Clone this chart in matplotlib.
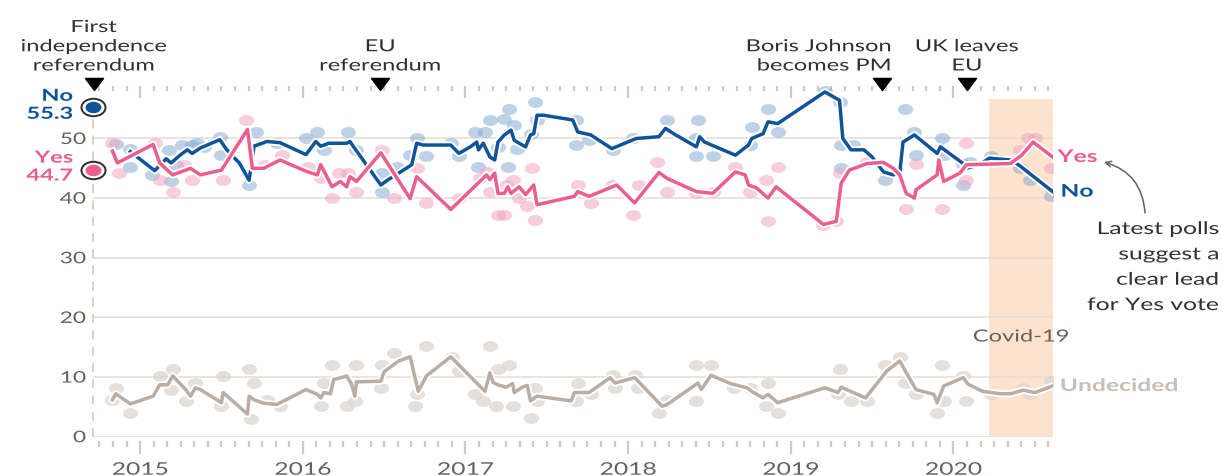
import matplotlib
matplotlib.use('Agg')
import matplotlib.pyplot as plt
import matplotlib.patheffects as pe
from matplotlib.patheffects import AbstractPathEffect
from matplotlib.transforms import Affine2D
from matplotlib.ticker import FixedLocator, NullFormatter
from matplotlib.path import Path
from matplotlib.markers import MarkerStyle

plt.rcParams['font.family'] = ['Lato', 'DejaVu Sans']

# ---------------- data (decimal years) ----------------
no_dates = [2014.94, 2015.09, 2015.16, 2015.19, 2015.25, 2015.29, 2015.32, 2015.37, 2015.49, 2015.53,
            2015.57, 2015.61, 2015.67, 2015.70, 2015.78, 2015.86, 2016.02, 2016.08, 2016.11, 2016.16,
            2016.27, 2016.29, 2016.31, 2016.48, 2016.52, 2016.59, 2016.67, 2016.70, 2016.74, 2016.91,
            2016.96, 2017.03, 2017.07, 2017.08, 2017.11, 2017.15, 2017.18, 2017.20, 2017.24, 2017.28,
            2017.30, 2017.33, 2017.37, 2017.40, 2017.42, 2017.44, 2017.48, 2017.66, 2017.69, 2017.77,
            2017.90, 2018.05, 2018.19, 2018.23, 2018.28, 2018.42, 2018.44, 2018.47, 2018.66, 2018.74,
            2018.76, 2018.83, 2018.86, 2018.92, 2019.21, 2019.30, 2019.32, 2019.37, 2019.45, 2019.50,
            2019.57, 2019.63, 2019.67, 2019.69, 2019.76, 2019.90, 2019.92, 2020.06, 2020.08, 2020.16,
            2020.22, 2020.35, 2020.40, 2020.61]
no_line = [47.8, 44.6, 46.6, 45.9, 47.3, 48.1, 47.5, 48.4, 49.8, 48.2,
           47.0, 45.9, 43.0, 48.7, 49.5, 49.3, 47.3, 49.5, 48.7, 49.2,
           49.2, 49.5, 48.7, 42.2, 43.0, 44.2, 45.6, 49.2, 48.9, 48.9,
           47.5, 48.6, 49.4, 48.1, 49.2, 46.9, 46.4, 49.4, 50.6, 51.4,
           49.7, 49.2, 48.6, 50.6, 50.8, 53.9, 53.9, 53.1, 51.1, 50.6,
           48.3, 50.0, 50.3, 51.7, 50.8, 48.6, 50.3, 49.4, 47.2, 48.9,
           50.0, 50.8, 52.8, 52.5, 57.8, 56.4, 50.0, 48.1, 48.1, 46.9,
           44.4, 43.9, 44.2, 49.4, 50.6, 47.5, 48.6, 45.8, 45.0, 45.6,
           46.7, 46.4, 45.6, 41.1]

yes_dates = [2014.83, 2014.86, 2015.08, 2015.12, 2015.20, 2015.31, 2015.37, 2015.50, 2015.66, 2015.69,
             2015.76, 2015.86, 2016.02, 2016.09, 2016.11, 2016.18, 2016.23, 2016.27, 2016.29, 2016.33,
             2016.48, 2016.66, 2016.70, 2016.91, 2017.10, 2017.13, 2017.15, 2017.18, 2017.20, 2017.24,
             2017.26, 2017.28, 2017.33, 2017.37, 2017.42, 2017.44, 2017.67, 2017.69, 2017.76, 2017.93,
             2018.04, 2018.19, 2018.24, 2018.42, 2018.52, 2018.66, 2018.72, 2018.74, 2018.79, 2018.86,
             2018.91, 2019.20, 2019.28, 2019.31, 2019.36, 2019.47, 2019.57, 2019.63, 2019.67, 2019.71,
             2019.76, 2019.77, 2019.90, 2019.91, 2019.94, 2020.04, 2020.08, 2020.35, 2020.42, 2020.49,
             2020.61]
yes_line = [47.9, 45.9, 49.0, 45.9, 43.9, 45.0, 43.9, 44.7, 51.5, 45.0,
            45.0, 46.4, 44.5, 43.9, 45.6, 41.9, 42.8, 41.9, 43.6, 42.8,
            47.6, 39.9, 43.6, 38.1, 43.1, 43.9, 43.1, 44.2, 40.8, 40.8,
            41.9, 40.8, 41.9, 40.6, 42.2, 38.9, 40.3, 41.1, 40.3, 42.2,
            39.2, 44.3, 43.3, 41.1, 40.8, 44.4, 43.9, 42.2, 41.7, 40.0,
            41.9, 35.6, 36.1, 42.5, 44.7, 45.8, 46.0, 45.0, 43.9, 40.8,
            40.0, 41.4, 43.9, 46.4, 42.8, 44.2, 45.6, 45.8, 47.2, 49.4,
            46.9]

und_dates = [2014.83, 2014.85, 2014.94, 2015.08, 2015.12, 2015.17, 2015.20, 2015.28, 2015.31, 2015.34,
             2015.37, 2015.50, 2015.51, 2015.66, 2015.67, 2015.70, 2015.76, 2015.84, 2016.02, 2016.09,
             2016.11, 2016.13, 2016.17, 2016.19, 2016.25, 2016.27, 2016.30, 2016.32, 2016.33, 2016.48,
             2016.50, 2016.59, 2016.66, 2016.71, 2016.76, 2016.91, 2017.12, 2017.15, 2017.17, 2017.20,
             2017.25, 2017.29, 2017.30, 2017.35, 2017.38, 2017.40, 2017.44, 2017.65, 2017.67, 2017.76,
             2017.89, 2017.92, 2018.04, 2018.21, 2018.24, 2018.43, 2018.45, 2018.51, 2018.63, 2018.73,
             2018.76, 2018.83, 2018.86, 2018.92, 2019.21, 2019.29, 2019.31, 2019.46, 2019.59, 2019.67,
             2019.74, 2019.77, 2019.88, 2019.90, 2019.94, 2020.06, 2020.09, 2020.18, 2020.29, 2020.35,
             2020.43, 2020.50, 2020.61]
und_line = [6.2, 7.2, 5.5, 6.8, 8.7, 8.7, 10.2, 7.9, 6.8, 8.2,
            7.9, 5.7, 7.4, 3.8, 6.8, 6.2, 5.6, 5.4, 7.9, 7.1,
            6.5, 7.4, 7.2, 9.6, 10.0, 10.2, 8.8, 6.8, 9.2, 9.3,
            10.9, 12.7, 13.4, 7.6, 10.2, 13.4, 7.6, 10.7, 9.1, 8.7,
            8.3, 8.9, 7.4, 8.3, 8.6, 6.0, 6.8, 6.0, 7.4, 7.4,
            9.9, 9.0, 9.9, 5.1, 5.4, 9.0, 7.9, 10.3, 8.9, 8.2,
            7.6, 6.5, 7.1, 5.7, 8.2, 7.4, 8.3, 6.5, 11.0, 12.7,
            9.3, 7.9, 7.1, 5.7, 8.5, 9.9, 8.8, 7.6, 7.2, 7.2,
            7.8, 7.4, 8.5]

# individual polls
no_poll_dates = [2014.85, 2014.94, 2014.94, 2015.07, 2015.18, 2015.19, 2015.22, 2015.26, 2015.32, 2015.35,
                 2015.39, 2015.49, 2015.50, 2015.67, 2015.71, 2015.84, 2016.02, 2016.09, 2016.13, 2016.28,
                 2016.33, 2016.49, 2016.49, 2016.58, 2016.66, 2016.70, 2016.76, 2016.91, 2016.96, 2017.06,
                 2017.12, 2017.08, 2017.15, 2017.20, 2017.26, 2017.27, 2017.24, 2017.30, 2017.32, 2017.40,
                 2017.43, 2017.44, 2017.68, 2017.68, 2017.76, 2017.91, 2018.03, 2018.24, 2018.43, 2018.42,
                 2018.42, 2018.52, 2018.76, 2018.75, 2018.86, 2018.92, 2019.21, 2019.30, 2019.31, 2019.31,
                 2019.38, 2019.58, 2019.70, 2019.76, 2019.77, 2019.93, 2019.94, 2020.06, 2020.06, 2020.10,
                 2020.23, 2020.41, 2020.47, 2020.60]
no_poll_vals = [49.0, 48.3, 45.3, 43.9, 48.1, 42.8, 45.6, 48.9, 48.9, 49.2,
                48.6, 50.3, 47.2, 42.2, 51.1, 49.2, 50.0, 51.1, 48.1, 51.1,
                48.1, 41.1, 44.2, 45.3, 47.2, 50.0, 47.0, 49.2, 47.0, 51.1,
                51.1, 45.3, 53.1, 48.6, 45.3, 55.0, 53.3, 52.2, 48.3, 50.8,
                56.1, 53.1, 53.1, 48.9, 49.7, 48.1, 50.0, 53.1, 53.1, 50.0,
                47.0, 47.0, 52.0, 48.9, 55.0, 51.1, 58.0, 56.1, 48.9, 45.0,
                48.9, 43.1, 55.0, 51.1, 47.2, 50.0, 47.2, 45.8, 42.2, 46.1,
                47.0, 45.0, 43.1, 40.3]

yes_poll_dates = [2014.83, 2014.87, 2015.09, 2015.12, 2015.20, 2015.27, 2015.32, 2015.51, 2015.65, 2015.77,
                  2015.87, 2016.03, 2016.11, 2016.18, 2016.22, 2016.28, 2016.33, 2016.49, 2016.56, 2016.70,
                  2016.76, 2016.96, 2017.09, 2017.13, 2017.15, 2017.20, 2017.24, 2017.25, 2017.29, 2017.33,
                  2017.38, 2017.41, 2017.43, 2017.69, 2017.77, 2017.90, 2018.03, 2018.07, 2018.18, 2018.24,
                  2018.42, 2018.52, 2018.66, 2018.75, 2018.85, 2018.92, 2018.86, 2019.20, 2019.30, 2019.28,
                  2019.47, 2019.71, 2019.77, 2019.90, 2019.93, 2020.08, 2020.08, 2020.41, 2020.46, 2020.50,
                  2020.60]
yes_poll_vals = [49.2, 44.2, 49.2, 43.1, 41.1, 45.6, 43.1, 43.1, 53.1, 45.6,
                 47.2, 45.3, 43.3, 40.0, 44.2, 44.2, 41.1, 48.1, 40.0, 45.0,
                 39.2, 40.0, 43.3, 44.4, 41.1, 37.2, 37.2, 42.2, 43.1, 40.0,
                 38.6, 45.0, 36.4, 42.2, 39.2, 42.2, 37.2, 42.2, 46.1, 41.1,
                 40.8, 41.1, 45.3, 41.1, 43.1, 45.3, 36.1, 35.5, 44.2, 36.1,
                 46.1, 38.1, 45.8, 48.1, 38.1, 49.2, 43.1, 48.1, 50.0, 50.0,
                 45.0]

und_poll_dates = [2014.83, 2014.85, 2014.94, 2015.12, 2015.20, 2015.19, 2015.28, 2015.34, 2015.50, 2015.51,
                  2015.67, 2015.70, 2015.68, 2015.78, 2015.86, 2016.11, 2016.13, 2016.18, 2016.27, 2016.32,
                  2016.33, 2016.48, 2016.49, 2016.56, 2016.76, 2016.69, 2016.70, 2016.92, 2016.96, 2017.06,
                  2017.11, 2017.15, 2017.20, 2017.19, 2017.27, 2017.29, 2017.40, 2017.43, 2017.44, 2017.69,
                  2017.68, 2017.77, 2017.91, 2017.92, 2018.04, 2018.06, 2018.19, 2018.24, 2018.42, 2018.42,
                  2018.51, 2018.65, 2018.75, 2018.85, 2018.86, 2018.92, 2019.30, 2019.29, 2019.37, 2019.47,
                  2019.58, 2019.67, 2019.70, 2019.77, 2019.90, 2019.93, 2019.94, 2020.06, 2020.08, 2020.23,
                  2020.43, 2020.47, 2020.60]
und_poll_vals = [6.1, 8.2, 4.0, 10.2, 11.3, 7.9, 6.0, 9.0, 5.1, 10.2,
                 11.3, 9.0, 2.9, 6.2, 5.1, 5.1, 9.0, 12.1, 5.1, 6.0,
                 12.1, 8.2, 12.1, 14.1, 15.2, 5.1, 7.1, 13.3, 11.0, 7.1,
                 6.0, 15.2, 11.3, 5.1, 12.1, 5.1, 3.1, 8.2, 6.0, 9.0,
                 6.0, 7.1, 10.4, 8.2, 10.4, 8.2, 4.0, 6.2, 12.1, 6.0,
                 12.1, 8.2, 8.2, 5.1, 9.0, 4.0, 11.3, 7.1, 6.0, 6.0,
                 12.1, 13.3, 9.0, 7.1, 4.0, 12.1, 6.0, 10.2, 6.0, 7.1,
                 8.2, 7.1, 9.3]

events = ['First\nindependence\nreferendum', 'EU\nreferendum', 'Boris Johnson\nbecomes PM', 'UK leaves\nEU']
event_dates = [2014.715, 2016.476, 2019.56, 2020.083]
referendum_result = {'No': 55.3, 'Yes': 44.7}
covid_start, covid_end = 2020.22, 2020.61
year_ticks = [2015, 2016, 2017, 2018, 2019, 2020]
y_ticks = [0, 10, 20, 30, 40, 50]

# ---------------- style ----------------
BLUE = '#0f5499'
PINK = '#eb5e8d'
UND = '#b9ada4'
TXT = '#66605c'
DARK = '#33302e'
GRID = '#e9ded4'
TICK = '#d6c9bc'
SX = 1.42  # the reference artwork is horizontally widened


class StretchX(AbstractPathEffect):
    """Widen glyphs horizontally around the text's alignment anchor."""
    def __init__(self, sx=SX, anchor='center'):
        super().__init__()
        self.sx = sx
        self.anchor = anchor

    def draw_path(self, renderer, gc, tpath, affine, rgbFace=None):
        bb = tpath.get_extents(affine)
        if self.anchor == 'left':
            a = bb.x0
        elif self.anchor == 'right':
            a = bb.x1
        else:
            a = 0.5 * (bb.x0 + bb.x1)
        t = affine + Affine2D().translate(-a, 0).scale(self.sx, 1).translate(a, 0)
        renderer.draw_path(gc, tpath, t, rgbFace)


def widen(txt):
    ha = txt.get_horizontalalignment()
    txt.set_path_effects([StretchX(anchor={'left': 'left', 'right': 'right'}.get(ha, 'center'))])
    return txt


ellipse = Path(Path.unit_circle().vertices * [SX * 0.97, 1.0], Path.unit_circle().codes)
ell_marker = MarkerStyle(ellipse)

fig = plt.figure(figsize=(12.23, 4.77), dpi=100)
ax = fig.add_axes([0.0760, 0.0824, 0.7847, 0.7352])
XMIN, XMAX = 2014.71, 2020.61
YTOP = 58.8
ax.set_xlim(XMIN, XMAX)
ax.set_ylim(0, YTOP)

for s in ax.spines.values():
    s.set_visible(False)

# grid
for yv in y_ticks:
    ax.axhline(yv, color=GRID, lw=1.2, zorder=1)
ax.set_yticks(y_ticks)
ax.tick_params(axis='y', length=0, pad=5, labelsize=11.5, labelcolor=TXT)

# covid shading
shade_top = 56.66
ax.axvspan(covid_start, covid_end, ymin=0, ymax=shade_top / YTOP, color='#fde3cd', zorder=0.5, lw=0)
widen(ax.text((covid_start + covid_end) / 2, 16.8, 'Covid-19', ha='center', va='center',
              fontsize=12, color=TXT, zorder=6))

# referendum dashed line
ax.plot([XMIN, XMIN], [0, shade_top], color='#dccbbb', lw=1.3, ls=(0, (5, 4)), clip_on=False, zorder=1)

# x ticks (bottom, offset below baseline)
minor = [y + m / 12 for y in range(2014, 2021) for m in range(1, 12)]
minor = [m for m in minor if XMIN < m < XMAX]
ax.spines['bottom'].set_position(('outward', 3))
ax.xaxis.set_major_locator(FixedLocator(year_ticks))
ax.xaxis.set_minor_locator(FixedLocator(minor))
ax.set_xticklabels([str(y) for y in year_ticks])
ax.tick_params(axis='x', which='major', direction='out', length=9.5, width=1.6, color=TICK,
               labelsize=12.5, labelcolor=TXT, pad=5.5)
ax.tick_params(axis='x', which='minor', direction='out', length=4.5, width=1.6, color=TICK)

# top ticks
sec = ax.secondary_xaxis('top')
sec.spines['top'].set_visible(False)
sec.xaxis.set_major_locator(FixedLocator(year_ticks))
sec.xaxis.set_minor_locator(FixedLocator(minor))
sec.xaxis.set_major_formatter(NullFormatter())
sec.tick_params(axis='x', which='major', direction='in', length=8.6, width=1.6, color=TICK)
sec.tick_params(axis='x', which='minor', direction='in', length=3.6, width=1.6, color=TICK)

# poll dots
dot_s = 118
ax.scatter(und_poll_dates, und_poll_vals, s=dot_s, marker=ell_marker, color='#ddd6d0', alpha=0.75, lw=0, zorder=2)
ax.scatter(no_poll_dates, no_poll_vals, s=dot_s, marker=ell_marker, color='#7fa6d1', alpha=0.5, lw=0, zorder=2)
ax.scatter(yes_poll_dates, yes_poll_vals, s=dot_s, marker=ell_marker, color='#f3a5c0', alpha=0.55, lw=0, zorder=2)

# lines
stroke = [pe.Stroke(linewidth=5.2, foreground='white'), pe.Normal()]
ax.plot(und_dates, und_line, color=UND, lw=2.5, zorder=3, solid_joinstyle='round', path_effects=stroke)
ax.plot(no_dates, no_line, color=BLUE, lw=2.5, zorder=4, solid_joinstyle='round', path_effects=stroke)
ax.plot(yes_dates, yes_line, color=PINK, lw=2.5, zorder=5, solid_joinstyle='round', path_effects=stroke)

# end labels
widen(ax.annotate('Yes', (yes_dates[-1], yes_line[-1]), xytext=(3.5, 0), textcoords='offset points',
                  ha='left', va='center', fontsize=12.5, fontweight='bold', color=PINK, annotation_clip=False))
widen(ax.annotate('No', (no_dates[-1], no_line[-1]), xytext=(6, 0), textcoords='offset points',
                  ha='left', va='center', fontsize=12.5, fontweight='bold', color=BLUE, annotation_clip=False))
widen(ax.annotate('Undecided', (und_dates[-1], und_line[-1]), xytext=(5.5, 0), textcoords='offset points',
                  ha='left', va='center', fontsize=12.5, fontweight='bold', color='#c9beb6',
                  annotation_clip=False))

# referendum result markers
for key, col in (('No', BLUE), ('Yes', PINK)):
    v = referendum_result[key]
    ax.scatter([XMIN], [v], s=300, marker=ell_marker, facecolor='white', edgecolor='#2b2b30', lw=1.4,
               zorder=7, clip_on=False)
    ax.scatter([XMIN], [v], s=130, marker=ell_marker, color=col, lw=0, zorder=8, clip_on=False)
    widen(ax.annotate(f'{key}\n{v}', (XMIN, v), xytext=(-14.5, 1.5 if key == 'No' else 2.5),
                      textcoords='offset points', ha='right', va='center', fontsize=12, fontweight='bold',
                      color=col, linespacing=1.15, annotation_clip=False))

# event markers
tri = Path([(-1, 0.67), (1, 0.67), (0, -0.67), (-1, 0.67)],
           [Path.MOVETO, Path.LINETO, Path.LINETO, Path.CLOSEPOLY])
for label, d in zip(events, event_dates):
    ax.plot([d], [59.2], marker=tri, ms=13, color='black', lw=0, clip_on=False, zorder=9)
    ha = 'right' if label.startswith('Boris') else 'center'
    xo = 6.5 if ha == 'right' else 0
    widen(ax.annotate(label, (d, 60.9), xytext=(xo, 0), textcoords='offset points', ha=ha, va='bottom',
                      multialignment=ha, fontsize=12, color=DARK, linespacing=1.25, annotation_clip=False))

# side note with arrow
widen(fig.text(1219 / 1223, 1 - 222 / 477, 'Latest polls\nsuggest a\nclear lead\nfor Yes vote', ha='right',
               va='top', fontsize=12.5, color=DARK, linespacing=1.72, multialignment='right'))
ax.annotate('', xy=(1104, 477 - 163), xycoords='figure pixels', xytext=(1145, 477 - 214),
            textcoords='figure pixels',
            arrowprops=dict(arrowstyle='->', color='#66605c', lw=1.1, connectionstyle='arc3,rad=0.35',
                            shrinkA=0, shrinkB=0))

fig.canvas.draw()
for lab in ax.get_xticklabels():
    widen(lab)
for lab in ax.get_yticklabels():
    widen(lab)

fig.savefig('out.png', dpi=100, facecolor='white')
